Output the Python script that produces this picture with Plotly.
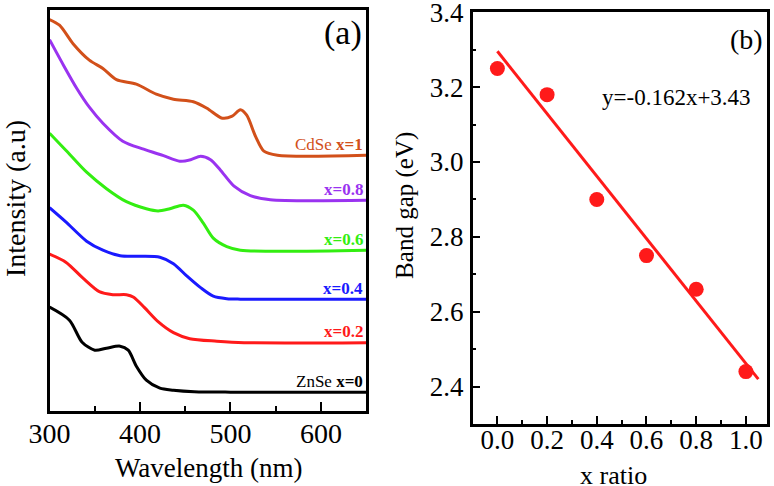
import plotly.graph_objects as go

FONT = "Liberation Serif, Times New Roman, serif"

# panel (a): absorption spectra (a.u.)
wl_x0 = [300, 322, 336, 350, 363, 378, 387, 396, 407, 422, 437, 460, 500, 650]
int_x0 = [106, 93, 71, 63, 65, 67, 63, 47, 33, 25, 23, 21.5, 21, 21]

wl_x02 = [300, 318, 337, 355, 370, 385, 393, 405, 420, 437, 455, 485, 515, 650]
int_x02 = [159, 151, 135, 121.5, 118.5, 118.5, 116, 105.5, 91.5, 80.5, 74.5, 72, 70.5, 70.5]

wl_x04 = [300, 318, 341, 359, 378, 400, 422, 437, 452, 467, 481, 496, 511, 650]
int_x04 = [205.5, 191.3, 172, 163, 157.5, 157, 156, 149.5, 137, 125.5, 117, 114.5, 114, 114]

wl_x06 = [300, 318, 341, 363, 385, 407, 420, 433, 448, 459, 470, 481, 496, 511, 650]
int_x06 = [280, 263, 241, 224.5, 211.5, 204.5, 202.3, 204.5, 208, 203, 190, 175, 166.5, 163, 163]

wl_x08 = [300, 316, 330, 344, 359, 381, 404, 426, 444, 456, 467, 478, 489, 504, 522, 544, 650]
int_x08 = [373.5, 347, 325, 306, 290, 272, 264, 257.5, 252, 253.5, 257, 253.5, 243, 227, 217.5, 213.5, 213]

wl_x1 = [300, 311, 326, 344, 359, 374, 396, 418, 437, 459, 474, 491, 502, 511, 518, 528, 537, 552, 650]
int_x1 = [393.7, 388, 369.5, 353, 344.7, 333.5, 329, 319, 314, 311.5, 305, 295, 297, 303.5, 298, 276.3, 262, 258, 258]

curve_names = ["ZnSe <b>x=0</b>", "<b>x=0.2</b>", "<b>x=0.4</b>", "<b>x=0.6</b>", "<b>x=0.8</b>", "CdSe <b>x=1</b>"]
curve_colors = ["#000000", "#ff1a1a", "#1a1aff", "#33ee11", "#9a33f0", "#d2501a"]

# panel (b): band gap vs x ratio
x_ratio = [0.0, 0.2, 0.4, 0.6, 0.8, 1.0]
band_gap = [3.25, 3.18, 2.90, 2.75, 2.66, 2.44]
fit_x = [0.0, 1.05]
fit_y = [3.296, 2.42]
fit_label = "y=-0.162x+3.43"

wl_ticks = [300, 400, 500, 600]
bg_ticks = [2.4, 2.6, 2.8, 3.0, 3.2, 3.4]
xr_ticks = [0.0, 0.2, 0.4, 0.6, 0.8, 1.0]

fig = go.Figure()

spectra = [(wl_x0, int_x0), (wl_x02, int_x02), (wl_x04, int_x04),
           (wl_x06, int_x06), (wl_x08, int_x08), (wl_x1, int_x1)]
for (wl, it), name, col in zip(spectra, curve_names, curve_colors):
    fig.add_trace(go.Scatter(x=wl, y=it, mode="lines", name=name,
                             line=dict(color=col, width=3, shape="spline", smoothing=0.8),
                             xaxis="x", yaxis="y"))
    fig.add_annotation(x=649, y=it[-1], xref="x", yref="y", text=name,
                       xanchor="right", yanchor="middle", yshift=11, showarrow=False,
                       font=dict(family=FONT, size=17, color=col))

fig.add_trace(go.Scatter(x=fit_x, y=fit_y, mode="lines",
                         line=dict(color="#ff1a1a", width=3),
                         xaxis="x2", yaxis="y2"))
fig.add_trace(go.Scatter(x=x_ratio, y=band_gap, mode="markers",
                         marker=dict(color="#ff1a1a", size=15),
                         xaxis="x2", yaxis="y2"))

axis_common = dict(showline=True, linewidth=2.5, linecolor="black", mirror=True,
                   tickwidth=2, tickcolor="black", showgrid=False, automargin=False,
                   zeroline=False, ticklabeloverflow="allow")

fig.update_layout(
    template="none",
    width=774, height=486,
    margin=dict(l=0, r=0, t=0, b=0),
    paper_bgcolor="white", plot_bgcolor="white",
    showlegend=False,
    xaxis=dict(domain=[0.064, 0.473], range=[300, 650], tickvals=wl_ticks,
               ticks="inside", ticklen=9, ticklabelstandoff=-5,
               tickfont=dict(family=FONT, size=28, color="black"),
               minor=dict(ticks="inside", ticklen=5, dtick=50, tickwidth=2, tickcolor="black"),
               anchor="y", **axis_common),
    yaxis=dict(domain=[0.154, 0.979], range=[2, 403], showticklabels=False, ticks="",
               anchor="x", **axis_common),
    xaxis2=dict(domain=[0.6105, 0.991], range=[-0.1, 1.085], tickvals=xr_ticks,
                tickformat=".1f", ticks="inside", ticklen=8, ticklabelstandoff=-10,
                tickfont=dict(family=FONT, size=27, color="black"),
                minor=dict(ticks="inside", ticklen=4, dtick=0.1, tickwidth=2, tickcolor="black"),
                anchor="y2", **axis_common),
    yaxis2=dict(domain=[0.1276, 0.975], range=[2.3, 3.4005], tickvals=bg_ticks,
                tickformat=".1f", ticks="inside", ticklen=8, ticklabelstandoff=1,
                tickfont=dict(family=FONT, size=27, color="black"),
                minor=dict(ticks="inside", ticklen=4, dtick=0.1, tickwidth=2, tickcolor="black"),
                anchor="x2", **axis_common),
)

titles = [
    ("Intensity (a.u)", 0.0194, 0.5905, -90, 28),
    ("Wavelength (nm)", 0.270, 0.037, 0, 27),
    ("Band gap (eV)", 0.523, 0.578, -90, 25),
    ("x ratio", 0.792, 0.022, 0, 26),
    ("(a)", 0.443, 0.932, 0, 34),
    ("(b)", 0.9647, 0.918, 0, 28),
]
for txt, px, py, ang, sz in titles:
    fig.add_annotation(x=px, y=py, xref="paper", yref="paper", text=txt, textangle=ang,
                       xanchor="center", yanchor="middle", showarrow=False,
                       font=dict(family=FONT, size=sz, color="black"))

fig.add_annotation(x=0.722, y=3.173, xref="x2", yref="y2", text=fit_label,
                   xanchor="center", yanchor="middle", showarrow=False,
                   font=dict(family=FONT, size=23, color="black"))

# page body has a default 8px margin; drop it so the figure fills the window
fig.write_html("out.html", config={"displayModeBar": False},
               post_script="document.body.style.margin='0';")
